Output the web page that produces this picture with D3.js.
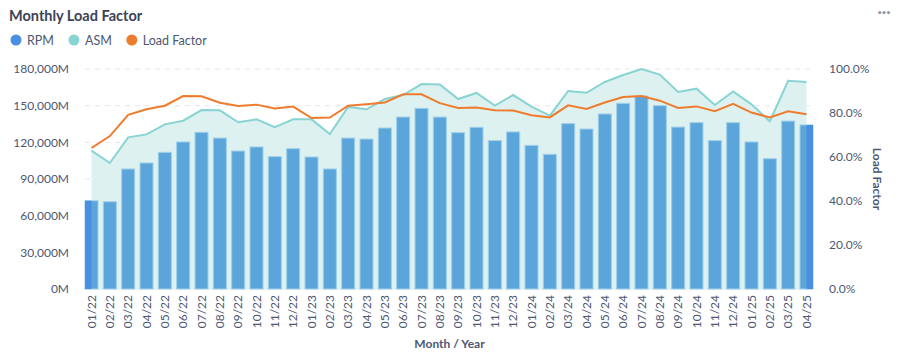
<!DOCTYPE html>
<html>
<head>
<meta charset="utf-8">
<script src="https://cdn.jsdelivr.net/npm/d3@7"></script>
<style>
  body { margin: 0; background: #fff; font-family: Lato, "Open Sans", sans-serif; }
  svg text { font-family: Lato, "Open Sans", sans-serif; }
</style>
</head>
<body>
<svg id="chart" width="899" height="361"></svg>
<script>
const months = ["01/22","02/22","03/22","04/22","05/22","06/22","07/22","08/22","09/22","10/22","11/22","12/22",
  "01/23","02/23","03/23","04/23","05/23","06/23","07/23","08/23","09/23","10/23","11/23","12/23",
  "01/24","02/24","03/24","04/24","05/24","06/24","07/24","08/24","09/24","10/24","11/24","12/24",
  "01/25","02/25","03/25","04/25"];

// millions
const rpm = [72200,71400,98200,103100,111800,120300,128200,123500,112900,116200,108300,114800,
  108000,98200,123500,122700,131700,140700,147800,140700,127900,132300,121400,128500,
  117500,110200,135300,130900,143200,151900,157900,150000,132500,136100,121400,136100,
  120300,106600,137400,134200];
const asm = [113200,103100,124100,126500,134700,137700,146400,146200,136400,138800,132500,138800,
  138800,126800,149000,147000,155400,158700,167700,167400,155400,160400,150000,158700,
  149200,141800,162000,160500,169400,175100,180000,175400,161200,163900,150500,161700,
  151100,137200,170400,169400];
const loadFactor = [64.1,69.5,79.2,81.7,83.3,87.7,87.6,84.7,83.2,83.8,82.0,82.9,
  77.7,77.9,83.3,84.0,84.8,88.5,88.5,84.5,82.3,82.5,81.2,81.1,
  79.0,78.0,83.5,81.8,84.8,87.3,87.7,85.6,82.3,83.0,80.8,84.2,
  80.2,78.0,80.8,79.4];
const leftTicks = [0,30000,60000,90000,120000,150000,180000];
const rightTicks = [0,20,40,60,80,100];

const colors = { rpm: "#5ba5da", rpmDark: "#4a90e2", asm: "#88d4d2", asmFill: "#ddf1f1", lf: "#ef7b2d" };
const textColor = "#4c5773";

let svg = d3.select("#chart");
let margin = { left: 85, right: 85, top: 69, bottom: 72 };
let width = 899 - margin.left - margin.right;
let height = 361 - margin.top - margin.bottom;

let x = d3.scaleBand().domain(months).range([margin.left, margin.left + width - 1]).paddingInner(0.29).paddingOuter(0);
let yL = d3.scaleLinear().domain([0, 180000]).range([margin.top + height, margin.top]);
let yR = d3.scaleLinear().domain([0, 100]).range([margin.top + height, margin.top]);
let cx = d => x(d) + x.bandwidth() / 2;

// title
svg.append("text")
  .attr("x", 9).attr("y", 21)
  .text("Monthly Load Factor")
  .style("fill", "#3b4357")
  .style("font-weight", "bold")
  .style("font-size", "14.5px");

// menu dots
svg.append("text")
  .attr("x", 884).attr("y", 17)
  .text("···")
  .style("fill", "#8a93a8")
  .style("text-anchor", "middle")
  .style("font-size", "16px")
  .style("font-weight", "bold");

// legend
let legend = [["RPM", colors.rpmDark], ["ASM", colors.asm], ["Load Factor", colors.lf]];
let lx = 16;
legend.forEach(function(l) {
  svg.append("circle").attr("cx", lx).attr("cy", 40).attr("r", 5.5).attr("fill", l[1]);
  let t = svg.append("text")
    .attr("x", lx + 11).attr("y", 44.5)
    .text(l[0])
    .style("fill", textColor)
    .style("font-size", "12.5px");
  lx += 11 + t.node().getComputedTextLength() + 20;
});

// grid lines
svg.selectAll(".grid")
  .data(leftTicks.slice(1)).enter()
  .append("line")
  .attr("x1", margin.left).attr("x2", margin.left + width)
  .attr("y1", d => yL(d)).attr("y2", d => yL(d))
  .style("stroke", "#e4e6ea")
  .style("stroke-dasharray", "5,5");
svg.append("line")
  .attr("x1", margin.left).attr("x2", margin.left + width)
  .attr("y1", yL(0)).attr("y2", yL(0))
  .style("stroke", "#dfe1e5");

// ASM area
let area = d3.area()
  .x((d, i) => cx(months[i]))
  .y0(yL(0))
  .y1(d => yL(d));
svg.append("path")
  .datum(asm)
  .attr("d", area)
  .attr("fill", colors.asmFill);

// RPM bars
svg.selectAll(".bar")
  .data(rpm).enter()
  .append("rect")
  .attr("class", "bar")
  .attr("x", (d, i) => x(months[i]))
  .attr("y", d => yL(d))
  .attr("width", x.bandwidth())
  .attr("height", d => yL(0) - yL(d))
  .attr("fill", colors.rpm)
  .attr("stroke", "#9fd0ea")
  .attr("stroke-width", 1);

// darker outer halves of the first and last bars
let ends = [0, months.length - 1];
svg.selectAll(".barEdge")
  .data(ends).enter()
  .append("rect")
  .attr("x", i => i === 0 ? x(months[i]) : cx(months[i]))
  .attr("y", i => yL(rpm[i]))
  .attr("width", x.bandwidth() / 2)
  .attr("height", i => yL(0) - yL(rpm[i]))
  .attr("fill", colors.rpmDark);

// ASM line
let asmLine = d3.line()
  .x((d, i) => cx(months[i]))
  .y(d => yL(d));
svg.append("path")
  .datum(asm)
  .attr("d", asmLine)
  .style("fill", "none")
  .style("stroke", colors.asm)
  .style("stroke-width", 2);

// Load factor line
let lfLine = d3.line()
  .x((d, i) => cx(months[i]))
  .y(d => yR(d));
svg.append("path")
  .datum(loadFactor)
  .attr("d", lfLine)
  .style("fill", "none")
  .style("stroke", colors.lf)
  .style("stroke-width", 2);

// left axis
let fmtM = d => d3.format(",")(d) + "M";
svg.append("g")
  .attr("transform", "translate(" + (margin.left - 13) + ",0)")
  .call(d3.axisLeft(yL).tickValues(leftTicks).tickFormat(fmtM).tickSize(0))
  .call(g => g.select(".domain").remove())
  .selectAll("text")
  .style("fill", textColor)
  .style("font-size", "12px")
  .style("font-family", "Lato, sans-serif");

// right axis
svg.append("g")
  .attr("transform", "translate(" + (margin.left + width + 12) + ",0)")
  .call(d3.axisRight(yR).tickValues(rightTicks).tickFormat(d => d.toFixed(1) + "%").tickSize(0))
  .call(g => g.select(".domain").remove())
  .selectAll("text")
  .style("fill", textColor)
  .style("font-size", "12px")
  .style("font-family", "Lato, sans-serif");

svg.append("text")
  .attr("transform", "translate(873," + (margin.top + height / 2) + ") rotate(90)")
  .text("Load Factor")
  .style("fill", textColor)
  .style("font-size", "12px")
  .style("font-weight", "bold")
  .style("text-anchor", "middle");

// bottom axis
svg.append("g")
  .attr("transform", "translate(0," + (yL(0) + 6) + ")")
  .call(d3.axisBottom(x).tickSize(0))
  .call(g => g.select(".domain").remove())
  .selectAll("text")
  .attr("transform", "rotate(-90)")
  .attr("x", 0).attr("y", 0)
  .attr("dx", "0").attr("dy", "0.35em")
  .style("text-anchor", "end")
  .style("fill", textColor)
  .style("font-size", "12px")
  .style("font-family", "Lato, sans-serif");

svg.append("text")
  .attr("x", margin.left + width / 2).attr("y", 348)
  .text("Month / Year")
  .style("fill", textColor)
  .style("font-size", "12px")
  .style("font-weight", "bold")
  .style("text-anchor", "middle");
</script>
</body>
</html>
